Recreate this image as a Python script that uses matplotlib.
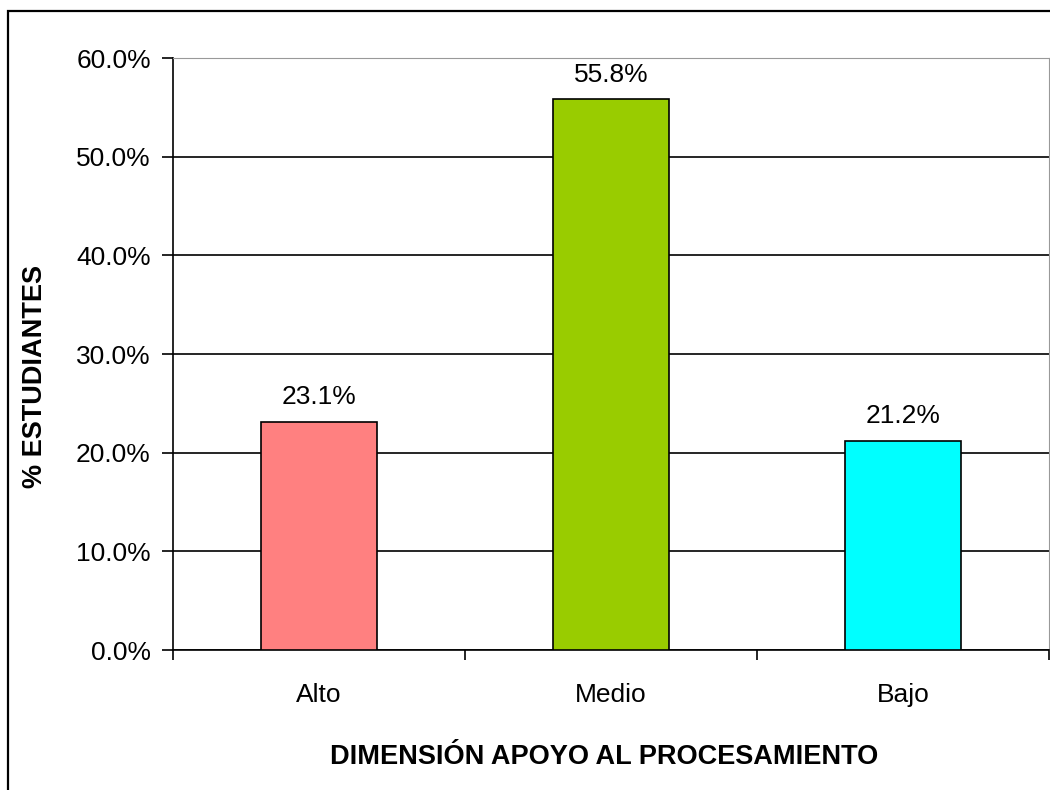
import matplotlib
matplotlib.use("Agg")
import matplotlib.pyplot as plt
from matplotlib.patches import Rectangle
from matplotlib.ticker import FuncFormatter, FixedLocator

plt.rcParams['font.family'] = ['Liberation Sans', 'DejaVu Sans']

# data
categories = ['Alto', 'Medio', 'Bajo']
values = [23.1, 55.8, 21.2]
colors = ['#FF8080', '#99CC00', '#00FFFF']

fig = plt.figure(figsize=(10.5, 7.9), dpi=100)

# outer chart frame (cut off at right and bottom)
fig.patches.append(Rectangle((8 / 1050, -0.05), 1.2, (790 - 11) / 790 + 0.05,
                             transform=fig.transFigure, fill=False,
                             edgecolor='black', linewidth=1.6))

ax = fig.add_axes([173 / 1050, 140 / 790, (1049 - 173) / 1050, (650 - 58) / 790])

x = range(len(categories))
ax.bar(x, values, width=0.4, color=colors, edgecolor='black', linewidth=1.2, zorder=3)

for xi, v in zip(x, values):
    ax.text(xi, v + 1.3, f'{v:.1f}%', ha='center', va='bottom', fontsize=19)

ax.set_xlim(-0.5, 2.5)
ax.set_ylim(0, 60)
ax.set_yticks(range(0, 61, 10))
ax.yaxis.set_major_formatter(FuncFormatter(lambda v, p: f'{v:.1f}%'))
ax.yaxis.grid(True, color='black', linewidth=1.2, zorder=0)

ax.set_xticks(list(x))
ax.set_xticklabels(categories, fontsize=19)
ax.tick_params(axis='x', which='major', length=0, pad=24)
ax.xaxis.set_minor_locator(FixedLocator([-0.5, 0.5, 1.5, 2.5]))
ax.tick_params(axis='x', which='minor', length=7, width=1.2, direction='out')
ax.tick_params(axis='y', length=8, width=1.2, direction='out', labelsize=19, pad=8)

for side in ['top', 'right']:
    ax.spines[side].set_color('#999999')
for side in ['left', 'bottom']:
    ax.spines[side].set_linewidth(1.2)

# axis titles placed in figure pixels to match the original chart
fig.text(604 / 1050, 1 - 757 / 790, 'DIMENSIÓN APOYO AL PROCESAMIENTO',
         fontsize=19.5, fontweight='bold', ha='center', va='center')
fig.text(35 / 1050, 1 - 376 / 790, '% ESTUDIANTES', rotation=90,
         fontsize=19.5, fontweight='bold', ha='center', va='center')

fig.savefig('out.png', dpi=100)
